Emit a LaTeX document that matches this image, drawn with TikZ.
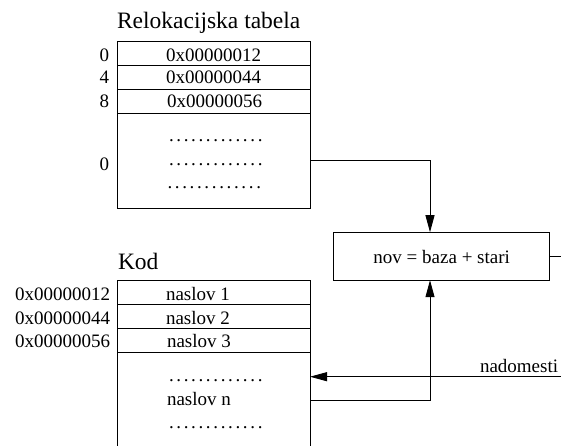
\documentclass[tikz,border=0pt]{standalone}
\usepackage{fontspec}
\setmainfont{Liberation Serif}
\usetikzlibrary{arrows.meta}
% a row of 13 spaced periods
\newcommand{\dotrow}{.\foreach\k in {1,...,12}{\kern2.65pt.}}
\begin{document}
\begin{tikzpicture}[x=1pt,y=-1pt,
  line width=0.9pt,
  every node/.style={inner sep=0pt, outer sep=0pt},
  body/.style={font=\fontsize{19}{22}\selectfont},
  heading/.style={font=\fontsize{23.5}{27}\selectfont},
  cell/.style={draw, minimum width=193pt, minimum height=24pt},
  arr/.style={-{Triangle[length=17pt,width=9pt]}}
]
\useasboundingbox (0,0) rectangle (561,445);

% relocation table
\node[heading, anchor=base west] (reltitle) at (117,28.5) {Relokacijska tabela};
\node[cell] (rel1) at (213.5,53) {};
\node[cell] (rel2) at (213.5,77) {};
\node[cell] (rel3) at (213.5,101) {};
\node[draw, minimum width=193pt, minimum height=95pt] (relrest) at (213.5,160.5) {};
\node[body, anchor=base] (v1) at (213.5,61) {0x00000012};
\node[body, anchor=base] (v2) at (213.5,83.7) {0x00000044};
\node[body, anchor=base] (v3) at (214.5,107.3) {0x00000056};
\node[body, anchor=base] (o1) at (104.3,61) {0};
\node[body, anchor=base] (o2) at (104.3,83.7) {4};
\node[body, anchor=base] (o3) at (104.3,107.3) {8};
\node[body, anchor=base] (o4) at (104.3,170) {0};
\node[body, anchor=base west] (rd1) at (169,141) {\dotrow};
\node[body, anchor=base west] (rd2) at (169,165.5) {\dotrow};
\node[body, anchor=base west] (rd3) at (167.5,188) {\dotrow};

% code segment
\node[heading, anchor=base west] (kodtitle) at (118,269.3) {Kod};
\node[cell] (kod1) at (213.5,292.7) {};
\node[cell] (kod2) at (213.5,316.7) {};
\node[cell] (kod3) at (213.5,340.5) {};
\node[minimum width=193pt, minimum height=95.4pt] (kodrest) at (213.5,400) {};
\draw (kodrest.south west) -- (kodrest.north west) -- (kodrest.north east) -- (kodrest.south east);
\node[body, anchor=base east] (a1) at (110,300) {0x00000012};
\node[body, anchor=base east] (a2) at (110,324) {0x00000044};
\node[body, anchor=base east] (a3) at (110,347.7) {0x00000056};
\node[body, anchor=base west] (n1) at (166,300) {naslov 1};
\node[body, anchor=base west] (n2) at (166,324) {naslov 2};
\node[body, anchor=base west] (n3) at (167,347.7) {naslov 3};
\node[body, anchor=base west] (nn) at (167,405) {naslov n};
\node[body, anchor=base west] (kd1) at (169,381) {\dotrow};
\node[body, anchor=base west] (kd2) at (169,428) {\dotrow};

% relocation step
\node[draw, minimum width=216pt, minimum height=48pt] (calc) at (441.3,256.2) {};
\node[body, anchor=base] (calctext) at (441.7,263.3) {nov = baza + stari};
\coordinate (cx) at (430,0);
\coordinate (outR) at (561,256.2);
\coordinate (inR) at (561,376.7);
\node[body, anchor=base west] (nadom) at (480,372.3) {nadomesti};

% connectors
\draw[arr] (relrest.east) -| (cx |- calc.north);
\draw[arr] (kodrest.east) -| (cx |- calc.south);
\draw (calc.east) -- (outR);
\draw[arr] (inR) -- (kodrest.east |- inR);
\end{tikzpicture}
\end{document}
